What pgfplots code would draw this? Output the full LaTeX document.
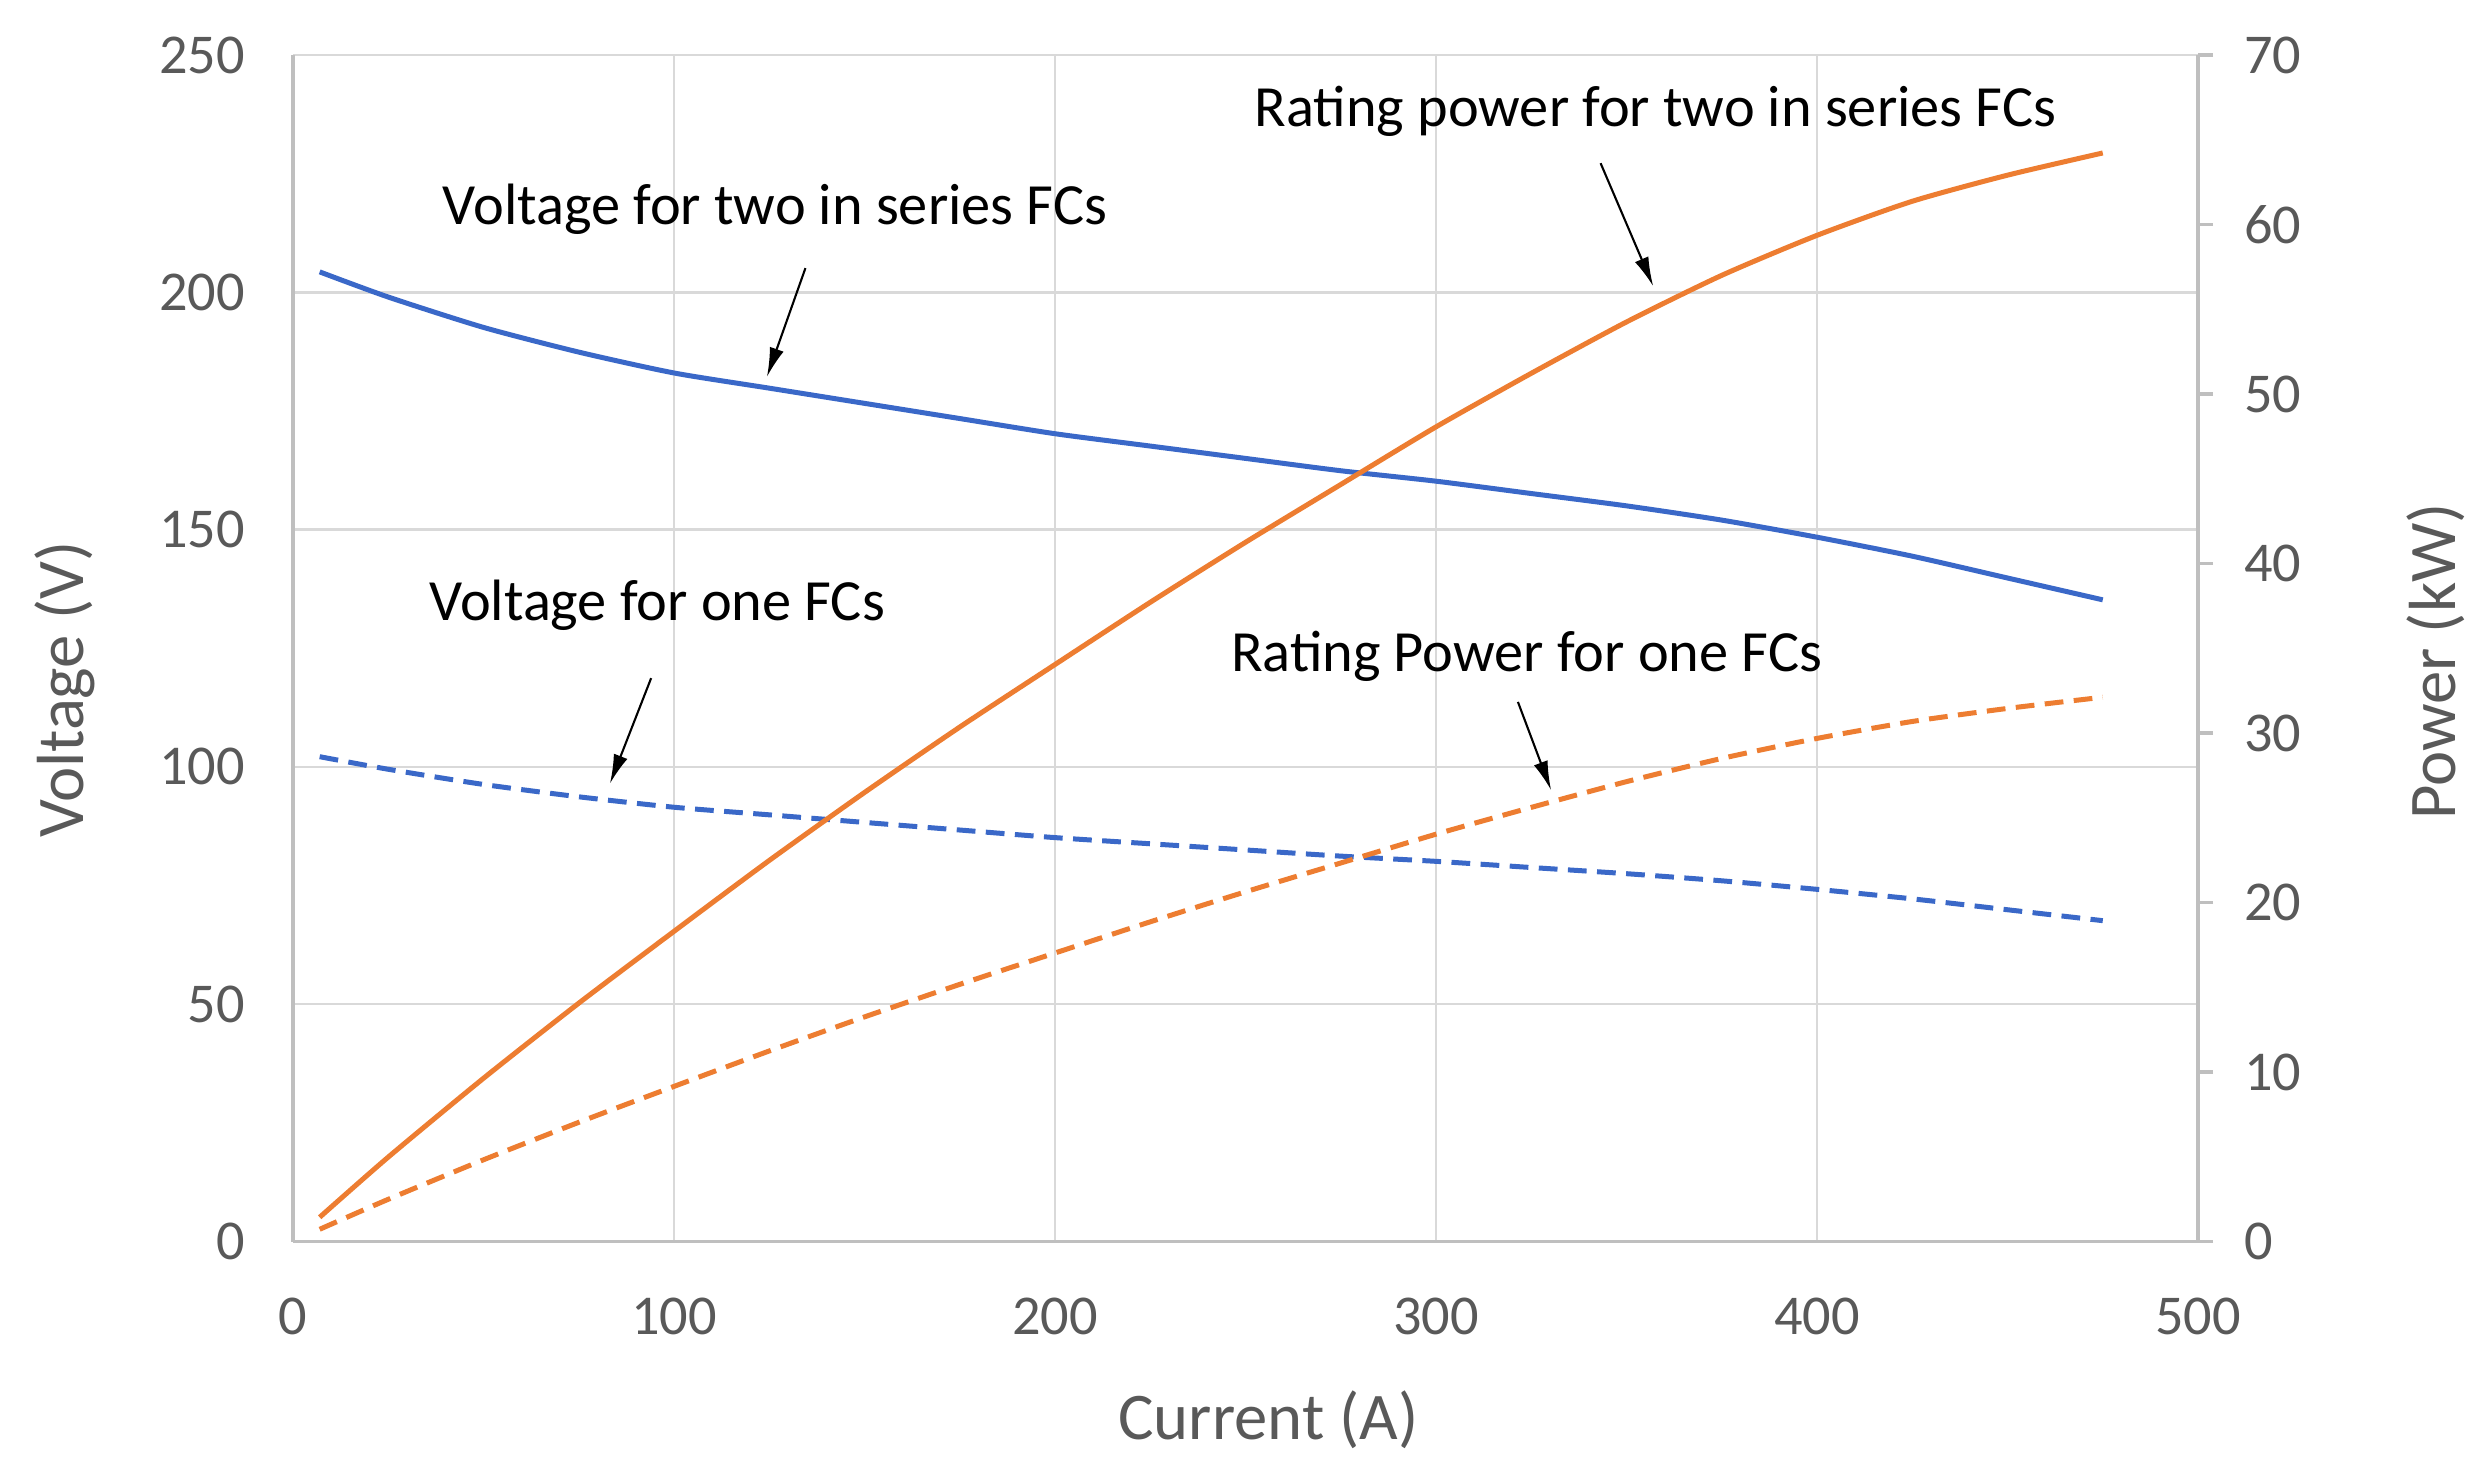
\documentclass[border=0pt]{standalone}
\usepackage{fontspec}
\setmainfont{Carlito}
\usepackage{pgfplots}
\pgfplotsset{compat=1.18}
\usetikzlibrary{arrows.meta}
\definecolor{vblue}{HTML}{3A68C8}
\definecolor{porange}{HTML}{ED7D31}
\definecolor{gridc}{HTML}{D9D9D9}
\definecolor{axc}{HTML}{BFBFBF}
\definecolor{txt}{HTML}{595959}

\pgfplotstableread{
I V2 V1
7 204.3 102.15
25 199.0 99.5
50 192.6 96.3
75 187.4 93.7
100 183.0 91.5
125 179.8 89.9
150 176.6 88.3
175 173.4 86.7
200 170.2 85.1
225 167.6 83.8
250 165.0 82.5
275 162.4 81.2
300 160.2 80.1
325 157.6 78.8
350 155.0 77.5
375 152.0 76.0
400 148.4 74.2
425 144.4 72.2
450 139.8 69.9
475 135.2 67.6
}\voltdata

\pgfplotstableread{
I P2 P1
7 1.43 0.72
25 4.98 2.49
50 9.63 4.82
75 14.06 7.03
100 18.30 9.15
125 22.48 11.24
150 26.49 13.25
175 30.35 15.17
200 34.04 17.02
225 37.71 18.86
250 41.25 20.63
275 44.66 22.33
300 48.06 24.03
325 51.22 25.61
350 54.25 27.13
375 57.00 28.50
400 59.36 29.68
425 61.37 30.68
450 62.91 31.45
475 64.22 32.11
}\powdata

\begin{document}
\begin{tikzpicture}
\begin{axis}[
  at={(70.32pt,55.8pt)}, anchor=south west,
  scale only axis, width=457.2pt, height=284.76pt,
  xmin=0, xmax=500, ymin=0, ymax=250,
  axis x line*=bottom, axis y line*=left,
  xtick={0,100,...,500}, ytick={0,50,...,250},
  grid=major, major grid style={gridc, line width=0.6pt},
  axis line style={axc, line width=0.75pt, -},
  major tick length=0pt,
  tick label style={font=\fontsize{13.5}{16}\selectfont, text=txt},
  /pgf/number format/assume math mode=true,
  xticklabel shift=10pt, yticklabel shift=8pt,
  xlabel={Current (A)},
  xlabel style={at={(axis description cs:0.512,-0.150)}, anchor=center, font=\fontsize{16}{19}\selectfont, text=txt},
  ylabel={Voltage (V)},
  ylabel style={at={(axis description cs:-0.120,0.465)}, anchor=center, font=\fontsize{16}{19}\selectfont, text=txt},
  clip=false,
]
\addplot[vblue, line width=1.2pt, smooth, tension=0.4] table[x=I, y=V2] {\voltdata};
\addplot[vblue, line width=1.2pt, smooth, tension=0.4, dash pattern=on 4.5pt off 2.5pt] table[x=I, y=V1] {\voltdata};

\node[anchor=base west, inner sep=0, font=\fontsize{14}{17}\selectfont] at (axis cs:39.1,214.2) {Voltage for two in series FCs};
\node[anchor=base west, inner sep=0, font=\fontsize{14}{17}\selectfont] at (axis cs:252.2,234.9) {Rating power for two in series FCs};
\node[anchor=base west, inner sep=0, font=\fontsize{14}{17}\selectfont] at (axis cs:35.6,130.9) {Voltage for one FCs};
\node[anchor=base west, inner sep=0, font=\fontsize{14}{17}\selectfont] at (axis cs:246.0,120.1) {Rating Power for one FCs};

\draw[line width=0.5pt, -{Latex[length=7pt,width=3.5pt]}] (axis cs:134.5,205.1) -- (axis cs:124.4,182.2);
\draw[line width=0.5pt, -{Latex[length=7pt,width=3.5pt]}] (axis cs:343.2,227.2) -- (axis cs:357.0,201.3);
\draw[line width=0.5pt, -{Latex[length=7pt,width=3.5pt]}] (axis cs:94.0,118.7) -- (axis cs:83.2,96.5);
\draw[line width=0.5pt, -{Latex[length=7pt,width=3.5pt]}] (axis cs:321.5,113.7) -- (axis cs:330.2,95.1);
\end{axis}

\begin{axis}[
  at={(70.32pt,55.8pt)}, anchor=south west,
  scale only axis, width=457.2pt, height=284.76pt,
  xmin=0, xmax=500, ymin=0, ymax=70,
  axis x line=none, axis y line*=right,
  ytick={0,10,...,70},
  axis line style={axc, line width=0.75pt, -},
  tick align=outside, major tick length=3.6pt,
  tick style={axc, line width=0.75pt},
  tick label style={font=\fontsize{13.5}{16}\selectfont, text=txt},
  /pgf/number format/assume math mode=true,
  yticklabel shift=4pt,
  ylabel={Power (kW)},
  ylabel style={at={(axis description cs:1.125,0.489)}, anchor=center, rotate=0, font=\fontsize{16}{19}\selectfont, text=txt},
  clip=false,
]
\addplot[porange, line width=1.2pt, smooth, tension=0.4] table[x=I, y=P2] {\powdata};
\addplot[porange, line width=1.2pt, smooth, tension=0.4, dash pattern=on 4.5pt off 2.5pt] table[x=I, y=P1] {\powdata};
\end{axis}
\pgfresetboundingbox
\useasboundingbox (0,0) rectangle (597.36pt,353.76pt);
\end{tikzpicture}
\end{document}
